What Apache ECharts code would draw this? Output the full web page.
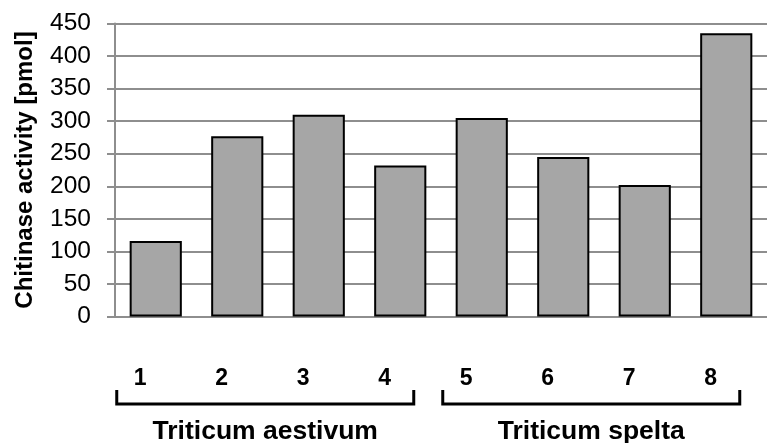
<!DOCTYPE html>
<html>
<head>
<meta charset="utf-8">
<script src="https://cdn.jsdelivr.net/npm/echarts@6/dist/echarts.min.js"></script>
<style>
html,body{margin:0;padding:0;background:#fff;}
#c{width:767px;height:443px;}
</style>
</head>
<body>
<div id="c"></div>
<script>
var categories = ['1','2','3','4','5','6','7','8'];
var values = [116, 277, 310, 232, 305, 245, 202, 435];
var yTicks = [0, 50, 100, 150, 200, 250, 300, 350, 400, 450];
var groups = [
  {name: 'Triticum aestivum', from: 0, to: 3},
  {name: 'Triticum spelta', from: 4, to: 7}
];
var yTitle = 'Chitinase activity [pmol]';

var FONT = '"Liberation Sans", Arial, sans-serif';
var chart = echarts.init(document.getElementById('c'), null, {renderer: 'canvas'});
var option = {
  animation: false,
  backgroundColor: '#ffffff',
  grid: {left: 115, right: -6, top: 23.5, bottom: 126.5, containLabel: false},
  xAxis: {
    type: 'category',
    data: categories,
    axisLine: {show: false},
    axisTick: {show: false},
    axisLabel: {
      show: true, margin: 51, padding: [0, 31, 0, 0],
      fontFamily: FONT, fontWeight: 'bold', fontSize: 23, color: '#000'
    }
  },
  yAxis: {
    type: 'value',
    min: yTicks[0], max: yTicks[yTicks.length - 1], interval: 50,
    name: yTitle,
    nameLocation: 'middle',
    nameGap: 78,
    nameRotate: 90,
    nameTextStyle: {fontFamily: FONT, fontWeight: 'bold', fontSize: 24, color: '#000'},
    axisLine: {show: true, lineStyle: {color: '#8e8e8e', width: 2}},
    axisTick: {show: true, inside: false, length: 8, lineStyle: {color: '#8e8e8e', width: 2}},
    axisLabel: {margin: 24, fontFamily: FONT, fontSize: 24.5, color: '#000'},
    splitLine: {show: true, lineStyle: {color: '#8e8e8e', width: 2}}
  },
  series: [{
    type: 'bar',
    data: values,
    barWidth: '64%',
    itemStyle: {color: '#a6a6a6', borderColor: '#000', borderWidth: 2}
  }]
};
chart.setOption(option);

var graphics = [];
groups.forEach(function (g) {
  var x0 = chart.convertToPixel({xAxisIndex: 0}, categories[g.from]) - 39;
  var x1 = chart.convertToPixel({xAxisIndex: 0}, categories[g.to]) + 13.5;
  var yTop = 390, yBot = 404;
  graphics.push({
    type: 'polyline',
    shape: {points: [[x0, yTop], [x0, yBot], [x1, yBot], [x1, yTop]]},
    style: {stroke: '#000', lineWidth: 3, fill: null}
  });
  graphics.push({
    type: 'text',
    x: (x0 + x1) / 2,
    y: 431.5,
    style: {
      text: g.name, fontFamily: FONT, fontWeight: 'bold', fontSize: 26.5,
      fill: '#000', align: 'center', verticalAlign: 'middle'
    }
  });
});
chart.setOption({graphic: graphics});
</script>
</body>
</html>
